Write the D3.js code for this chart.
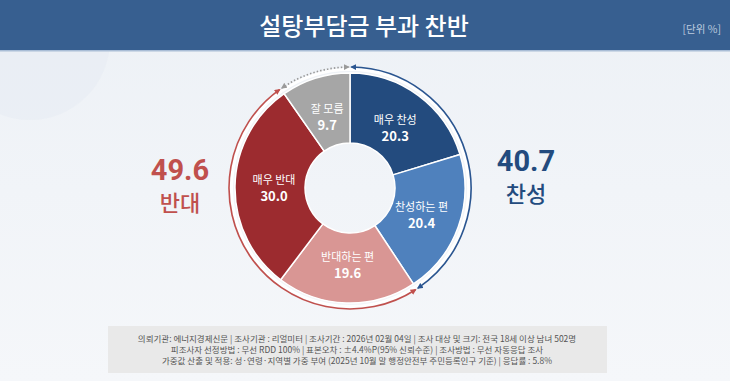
<!DOCTYPE html>
<html>
<head>
<meta charset="utf-8">
<script src="https://cdn.jsdelivr.net/npm/d3@7"></script>
<style>
  html, body { margin: 0; padding: 0; background: #eef2f7; }
  body { font-family: "Noto Sans CJK KR", "Noto Sans", sans-serif; }
</style>
</head>
<body>
<div id="chart"></div>
<script>
// slice data, clockwise from 12 o'clock
const categories = ["매우 찬성", "찬성하는 편", "반대하는 편", "매우 반대", "잘 모름"];
const values = [20.3, 20.4, 19.6, 30.0, 9.7];
const sliceColors = ["#234b7e", "#4f81bd", "#d99694", "#9c2b2f", "#a6a6a6"];

// summary groups shown beside the donut
const groupNames = ["찬성", "반대"];
const groupValues = [40.7, 49.6];

const titleText = "설탕부담금 부과 찬반";
const unitText = "[단위 %]";
const notes = [
  "의뢰기관: 에너지경제신문  | 조사기관 : 리얼미터  |  조사기간 : 2026년 02월 04일 | 조사 대상 및 크기: 전국 18세 이상 남녀 502명",
  "피조사자 선정방법 : 무선 RDD 100% | 표본오차 : ±4.4%P(95% 신뢰수준) | 조사방법 : 무선 자동응답 조사",
  "가중값 산출 및 적용: 성·연령·지역별 가중 부여 (2025년 10월 말 행정안전부 주민등록인구 기준) | 응답률 : 5.8%"
];

const W = 730, H = 381;
const cx = 350, cy = 188;
const rOuter = 115, rInner = 45;

const svg = d3.select("#chart").append("svg")
    .attr("width", W).attr("height", H)
    .style("display", "block");

// background
const defs = svg.append("defs");
const bg = defs.append("linearGradient").attr("id", "bg")
    .attr("x1", 0).attr("y1", 0).attr("x2", 0).attr("y2", 1);
bg.append("stop").attr("offset", "0%").attr("stop-color", "#edf1f6");
bg.append("stop").attr("offset", "100%").attr("stop-color", "#f5f7fa");
svg.append("rect").attr("width", W).attr("height", H).attr("fill", "url(#bg)");

// faint decoration top-left
svg.append("circle").attr("cx", 30).attr("cy", 40).attr("r", 80)
    .attr("fill", "#e3e9f1").attr("opacity", 0.35);

// header band
svg.append("rect").attr("width", W).attr("height", 50).attr("fill", "#375f90");
svg.append("rect").attr("y", 50).attr("width", W).attr("height", 1.5).attr("fill", "#a9bdd6");

svg.append("text")
    .attr("x", 364).attr("y", 35)
    .attr("text-anchor", "middle")
    .attr("fill", "#ffffff")
    .attr("font-size", 24)
    .attr("font-weight", 500)
    .text(titleText);

svg.append("text")
    .attr("x", 721).attr("y", 33)
    .attr("text-anchor", "end")
    .attr("fill", "#bccbdf")
    .attr("font-size", 10.5)
    .text(unitText);

// donut
const total = d3.sum(values);
const pie = d3.pie().sort(null).value(d => d)
    .startAngle(0).endAngle(2 * Math.PI);
const arcs = pie(values);

const arc = d3.arc().innerRadius(rInner).outerRadius(rOuter);
const labelArc = d3.arc().innerRadius(76).outerRadius(76);

const g = svg.append("g").attr("transform", "translate(" + cx + "," + cy + ")");

g.selectAll("path.slice")
    .data(arcs)
    .enter()
    .append("path")
        .attr("class", "slice")
        .attr("d", arc)
        .attr("fill", (d, i) => sliceColors[i])
        .attr("stroke", "#ffffff")
        .attr("stroke-width", 1.5);

const labels = g.selectAll("g.lbl")
    .data(arcs)
    .enter()
    .append("g")
        .attr("class", "lbl")
        .attr("transform", d => "translate(" + labelArc.centroid(d) + ")");

labels.append("text")
    .attr("y", -3)
    .attr("text-anchor", "middle")
    .attr("fill", "#ffffff")
    .attr("font-size", 11)
    .text((d, i) => categories[i]);

labels.append("text")
    .attr("y", 14)
    .attr("text-anchor", "middle")
    .attr("fill", "#ffffff")
    .attr("font-size", 13)
    .attr("font-weight", 700)
    .text(d => d.data.toFixed(1));

// outer indicator arcs
function markerDef(id, color) {
    defs.append("marker")
        .attr("id", id)
        .attr("viewBox", "0 0 10 10")
        .attr("refX", 8).attr("refY", 5)
        .attr("markerWidth", 6).attr("markerHeight", 6)
        .attr("markerUnits", "userSpaceOnUse")
        .attr("orient", "auto-start-reverse")
      .append("path")
        .attr("d", "M0,0 L10,5 L0,10 Z")
        .attr("fill", color);
}
markerDef("arBlue", "#2a5590");
markerDef("arRed", "#c0504d");
markerDef("arGray", "#9a9a9a");

function ringPath(r, a0, a1) {
    const p = d3.path();
    // d3.path angles start at 3 o'clock; pie angles start at 12 o'clock
    p.arc(0, 0, r, a0 - Math.PI / 2, a1 - Math.PI / 2, false);
    return p.toString();
}

const angle = d3.scaleLinear().domain([0, total]).range([0, 2 * Math.PI]);
const agree = values[0] + values[1];
const disagree = values[2] + values[3];
const pad = 0.012;

const rings = [
    { from: 0, to: agree, color: "#2a5590", marker: "arBlue", dash: null },
    { from: agree, to: agree + disagree, color: "#c0504d", marker: "arRed", dash: null },
    { from: agree + disagree, to: total, color: "#9a9a9a", marker: "arGray", dash: "1.5,2" }
];

const rRing = 121;
g.selectAll("path.ringbg")
    .data(rings)
    .enter()
    .append("path")
        .attr("class", "ringbg")
        .attr("d", d => ringPath(rRing - 2.5, angle(d.from), angle(d.to)))
        .attr("fill", "none")
        .attr("stroke", "#ffffff")
        .attr("stroke-width", 3);

g.selectAll("path.ring")
    .data(rings)
    .enter()
    .append("path")
        .attr("class", "ring")
        .attr("d", d => ringPath(rRing, angle(d.from) + pad, angle(d.to) - pad))
        .attr("fill", "none")
        .attr("stroke", d => d.color)
        .attr("stroke-width", 1.6)
        .attr("stroke-dasharray", d => d.dash)
        .attr("marker-start", d => "url(#" + d.marker + ")")
        .attr("marker-end", d => "url(#" + d.marker + ")");

// summary figures
const summary = [
    { x: 526, y: 171, color: "#234b7e", name: groupNames[0], value: groupValues[0] },
    { x: 180, y: 180, color: "#c0504d", name: groupNames[1], value: groupValues[1] }
];

const sg = svg.selectAll("g.summary")
    .data(summary)
    .enter()
    .append("g")
        .attr("class", "summary")
        .attr("transform", d => "translate(" + d.x + "," + d.y + ")");

sg.append("text")
    .attr("text-anchor", "middle")
    .attr("fill", d => d.color)
    .attr("font-size", 29)
    .attr("font-weight", 700)
    .attr("font-family", "Roboto, 'Noto Sans', sans-serif")
    .text(d => d.value.toFixed(1));

sg.append("text")
    .attr("y", 31)
    .attr("text-anchor", "middle")
    .attr("fill", d => d.color)
    .attr("font-size", 22)
    .attr("font-weight", 500)
    .text(d => d.name);

// footnote box
svg.append("rect")
    .attr("x", 108).attr("y", 326)
    .attr("width", 499).attr("height", 47)
    .attr("fill", "#e9e9e9");

svg.selectAll("text.note")
    .data(notes)
    .enter()
    .append("text")
        .attr("class", "note")
        .attr("x", 357)
        .attr("y", (d, i) => 342 + i * 11)
        .attr("text-anchor", "middle")
        .attr("fill", "#555555")
        .attr("font-size", 8.5)
        .text(d => d);
</script>
</body>
</html>
